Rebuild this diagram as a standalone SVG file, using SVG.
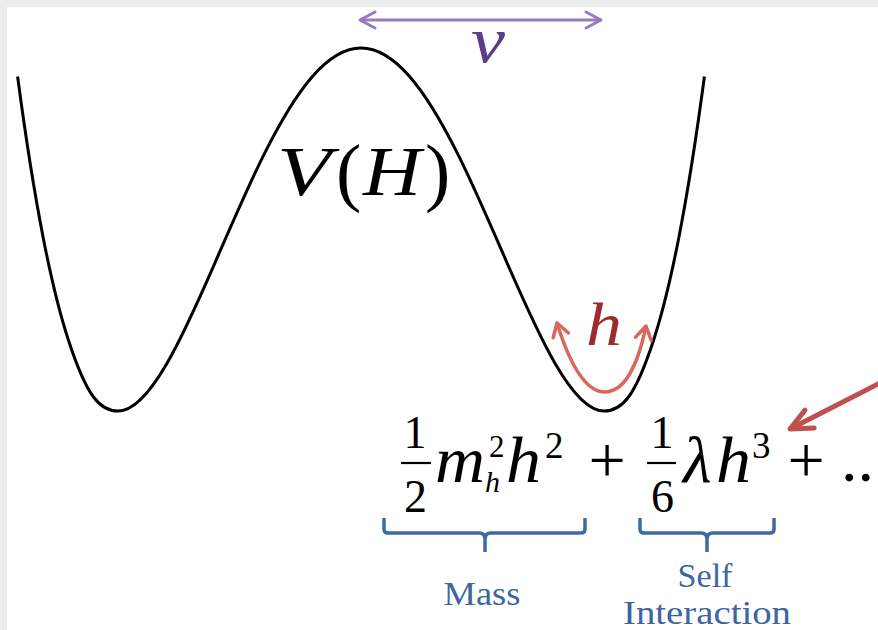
<svg xmlns="http://www.w3.org/2000/svg" xmlns:xlink="http://www.w3.org/1999/xlink" width="878" height="630" viewBox="0 0 878 630">
  <style>
    text { font-family: "Liberation Serif", "DejaVu Serif", serif; }
    .it { font-style: italic; }
    .rm { font-style: normal; }
    .blk { fill: #000000; }
    .brace { fill: none; stroke: #3D6AA3; stroke-width: 3.5; stroke-linejoin: round; }
    .lbl { fill: #3D659F; font-size: 34px; text-anchor: middle; }
    .bar { stroke: #000000; stroke-width: 2.2; }
  </style>
  <defs>
    <marker id="chevP" markerUnits="userSpaceOnUse" orient="auto-start-reverse" refX="0" refY="0" markerWidth="40" markerHeight="40" viewBox="-20 -20 40 40" overflow="visible">
      <path d="M-15,-8 L0,0 L-15,8" fill="none" stroke="#977BBF" stroke-width="3" stroke-linecap="round" stroke-linejoin="round"/>
    </marker>
    <marker id="chevH" markerUnits="userSpaceOnUse" orient="auto-start-reverse" refX="0" refY="0" markerWidth="40" markerHeight="40" viewBox="-20 -20 40 40" overflow="visible">
      <path d="M-13,-8 L0,0 L-13,8" fill="none" stroke="#D9675D" stroke-width="3.5" stroke-linecap="round" stroke-linejoin="round"/>
    </marker>
    <marker id="chevR" markerUnits="userSpaceOnUse" orient="auto" refX="0" refY="0" markerWidth="60" markerHeight="60" viewBox="-30 -30 60 60" overflow="visible">
      <path d="M-22,-10 L0,0 L-22,10" fill="none" stroke="#C0504D" stroke-width="5" stroke-linecap="round" stroke-linejoin="round"/>
    </marker>
  </defs>

  <!-- background -->
  <rect x="0" y="0" width="878" height="630" fill="#ececec"/>
  <rect x="7" y="7" width="871" height="623" fill="#ffffff"/>

  <!-- potential curve -->
  <g id="curve" fill="none" stroke="#000000" stroke-width="3">
    <path id="halfwell" d="M361,48 C377.2,48 393.4,57.91 409.6,76.5 C425.8,95.09 442,122.37 458.2,154.9 C474.4,187.43 490.6,225.13 506.8,262.3 C523,299.47 539.2,336.12 555.4,364 C571.6,391.88 587.8,411 604,411 C612.1,411 620.27,408.18 628.5,397 C636.73,385.82 645.03,366.26 653.4,340.7 C661.77,315.14 670.2,281.62 678.7,238.2 C687.2,194.78 695.77,141.55 704.4,76.5"/>
    <use xlink:href="#halfwell" href="#halfwell" transform="translate(722,0) scale(-1,1)"/>
  </g>

  <g id="label-VH" class="blk">
    <text class="it" x="277" y="195" font-size="70" textLength="54" lengthAdjust="spacingAndGlyphs">V</text>
    <text class="rm" x="336" y="197" font-size="76">(</text>
    <text class="it" x="363" y="195" font-size="70" textLength="58" lengthAdjust="spacingAndGlyphs">H</text>
    <text class="rm" x="425" y="197" font-size="76">)</text>
  </g>

  <g id="label-v">
    <text class="it" x="471" y="62" font-size="66" fill="#5A3E87" textLength="34" lengthAdjust="spacingAndGlyphs">v</text>
  </g>

  <g id="label-h">
    <text class="it" x="586" y="345" font-size="61" fill="#9E2B2B" textLength="36" lengthAdjust="spacingAndGlyphs">h</text>
  </g>

  <g id="formula" class="blk">
    <text class="rm" x="415" y="448" font-size="46" text-anchor="middle">1</text>
    <line class="bar" x1="401" y1="463" x2="431" y2="463"/>
    <text class="rm" x="415.5" y="512" font-size="46" text-anchor="middle">2</text>
    <text class="it" x="435" y="482" font-size="66" textLength="50" lengthAdjust="spacingAndGlyphs">m</text>
    <text class="rm" x="489" y="457" font-size="31">2</text>
    <text class="it" x="485" y="492" font-size="30">h</text>
    <text class="it" x="506" y="482" font-size="66" textLength="35" lengthAdjust="spacingAndGlyphs">h</text>
    <text class="rm" x="545" y="458" font-size="37">2</text>
    <text class="rm" x="607" y="482" font-size="66" text-anchor="middle">+</text>
    <text class="rm" x="662" y="448" font-size="46" text-anchor="middle">1</text>
    <line class="bar" x1="647" y1="463" x2="676" y2="463"/>
    <text class="rm" x="662.5" y="512" font-size="46" text-anchor="middle">6</text>
    <text class="it" x="683" y="482" font-size="66">λ</text>
    <text class="it" x="716" y="482" font-size="66" textLength="35" lengthAdjust="spacingAndGlyphs">h</text>
    <text class="rm" x="752" y="458" font-size="37">3</text>
    <text class="rm" x="806" y="482" font-size="66" text-anchor="middle">+</text>
    <text class="rm" x="841" y="481" font-size="66">...</text>
  </g>

  <g id="brace-mass">
    <path class="brace" d="M384,518 L384,529 Q384,533 388,533 L479,533 Q485,533 485,539 L485,552 M485,539 Q485,533 491,533 L581,533 Q585,533 585,529 L585,518"/>
    <text class="lbl" x="482" y="605" textLength="77" lengthAdjust="spacingAndGlyphs">Mass</text>
  </g>

  <g id="brace-self">
    <path class="brace" d="M640,518 L640,529 Q640,533 644,533 L701,533 Q707,533 707,539 L707,552 M707,539 Q707,533 713,533 L770,533 Q774,533 774,529 L774,518"/>
    <text class="lbl" x="705" y="587" textLength="55" lengthAdjust="spacingAndGlyphs">Self</text>
    <text class="lbl" x="707" y="624" textLength="168" lengthAdjust="spacingAndGlyphs">Interaction</text>
  </g>

  <g id="connectors" fill="none" stroke-linecap="butt">
    <path d="M360,20 L601,20" stroke="#977BBF" stroke-width="3" marker-start="url(#chevP)" marker-end="url(#chevP)"/>
    <path d="M557,323 C566,352 582,392 605,392 C628,392 640,355 646,326" stroke="#D9675D" stroke-width="3.5" marker-start="url(#chevH)" marker-end="url(#chevH)"/>
    <path d="M880,383 L790,429" stroke="#C0504D" stroke-width="5" marker-end="url(#chevR)"/>
  </g>
</svg>
